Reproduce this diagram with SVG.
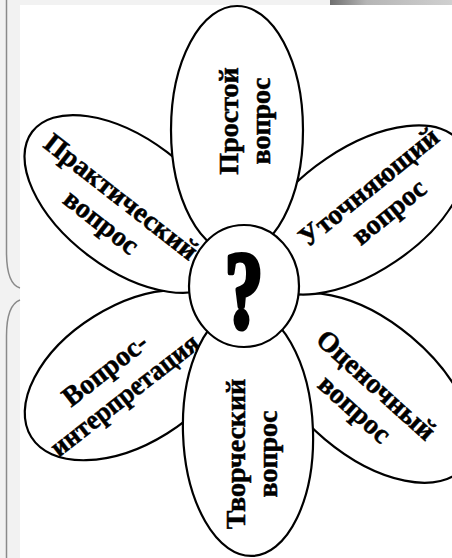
<svg xmlns="http://www.w3.org/2000/svg" width="452" height="558" viewBox="0 0 452 558">
<defs>
<linearGradient id="topbar" x1="0" y1="0" x2="1" y2="0">
<stop offset="0" stop-color="#6f6f6f"/>
<stop offset="0.3" stop-color="#b5b5b5"/>
<stop offset="1" stop-color="#d0d0d0"/>
</linearGradient>
<style>
.petal{fill:#fff;stroke:#000;stroke-width:2.2}
.lbl{font-family:"Liberation Serif","Times New Roman",serif;font-weight:bold;font-size:28px;fill:#000;stroke:#000;stroke-width:0.5;text-anchor:middle}
.frame{fill:none;stroke:#8a8a8a;stroke-width:1.5}
</style>
</defs>
<rect x="0" y="0" width="452" height="558" fill="#f2f2f2"/>
<rect x="330" y="0" width="122" height="5" fill="url(#topbar)"/>
<rect x="20" y="5" width="432" height="553" fill="#fff"/>
<path class="frame" d="M6.5 0 V252 Q6.5 284 20 288"/>
<path class="frame" d="M20 300 Q6.5 305 6.5 336 V558"/>

<g id="petal-interpretation">
<ellipse class="petal" cx="130.5" cy="375" rx="117" ry="69" transform="rotate(-32 130.5 375)"/>
<g transform="translate(116 384) rotate(-38)">
<text class="lbl" x="0" y="-9">Вопрос-</text>
<text class="lbl" x="0" y="23" textLength="181" lengthAdjust="spacingAndGlyphs">интерпретация</text>
</g>
</g>

<g id="petal-evaluative">
<ellipse class="petal" cx="368" cy="388" rx="124" ry="67" transform="rotate(40 368 388)"/>
<g transform="translate(364 398.5) rotate(42)">
<text class="lbl" x="0" y="-9">Оценочный</text>
<text class="lbl" x="0" y="23">вопрос</text>
</g>
</g>

<g id="petal-practical">
<ellipse class="petal" cx="128" cy="204" rx="120" ry="65" transform="rotate(37 128 204)"/>
<g transform="translate(110 211) rotate(38)">
<text class="lbl" x="0" y="-9">Практический</text>
<text class="lbl" x="0" y="23">вопрос</text>
</g>
</g>

<g id="petal-clarifying">
<ellipse class="petal" cx="361" cy="210" rx="120" ry="62" transform="rotate(-34 361 210)"/>
<g transform="translate(380 201) rotate(-39)">
<text class="lbl" x="0" y="-9">Уточняющий</text>
<text class="lbl" x="0" y="23">вопрос</text>
</g>
</g>

<g id="petal-creative">
<ellipse class="petal" cx="248" cy="432" rx="65" ry="124" transform="rotate(-2 248 432)"/>
<g transform="translate(254 454) rotate(-90)">
<text class="lbl" x="0" y="-9">Творческий</text>
<text class="lbl" x="0" y="23">вопрос</text>
</g>
</g>

<g id="petal-simple">
<ellipse class="petal" cx="237" cy="130" rx="66" ry="124"/>
<g transform="translate(246.5 121) rotate(-90)">
<text class="lbl" x="0" y="-9">Простой</text>
<text class="lbl" x="0" y="23">вопрос</text>
</g>
</g>

<g id="center">
<ellipse class="petal" cx="244" cy="286" rx="55" ry="61"/>
<text transform="translate(244 327) scale(0.7 1)" x="0" y="0" font-family="Liberation Serif, Times New Roman, serif" font-weight="bold" font-size="110" text-anchor="middle" fill="#000" stroke="#000" stroke-width="5" stroke-linejoin="round">?</text>
</g>
</svg>
